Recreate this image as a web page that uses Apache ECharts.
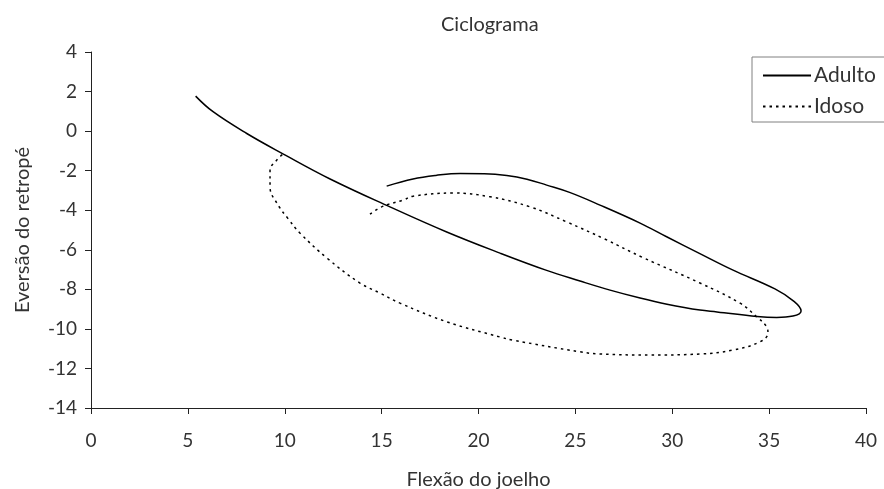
<!DOCTYPE html>
<html>
<head>
<meta charset="utf-8">
<script src="https://cdn.jsdelivr.net/npm/echarts@6/dist/echarts.min.js"></script>
<style>
  html, body { margin: 0; padding: 0; background: #fff; }
  #chart { width: 884px; height: 489px; }
</style>
</head>
<body>
<div id="chart"></div>
<script>
// flexao do joelho (x) / eversao do retrope (y)
var adultoX = [5.40, 6.30, 8.04, 9.93, 12.34, 15.43, 18.36, 21.11, 23.48, 25.24, 26.79, 28.34, 29.73, 31.43, 32.31, 34.37, 35.39, 36.23, 36.65, 36.30, 35.30, 33.14, 31.40, 29.71, 28.34, 26.27, 24.70, 23.52, 22.50, 21.46, 20.30, 19.05, 17.80, 16.62, 15.26];
var adultoY = [1.77, 0.98, -0.12, -1.16, -2.42, -3.83, -5.10, -6.17, -7.03, -7.58, -8.04, -8.44, -8.75, -9.05, -9.14, -9.37, -9.42, -9.35, -9.09, -8.62, -7.98, -7.03, -6.18, -5.34, -4.65, -3.74, -3.10, -2.73, -2.43, -2.24, -2.15, -2.14, -2.24, -2.42, -2.78];

var idosoX = [14.40, 15.00, 16.10, 16.62, 18.68, 20.59, 22.66, 24.55, 26.50, 28.50, 31.43, 33.50, 34.36, 34.87, 34.94, 34.53, 33.14, 31.43, 28.85, 26.27, 25.24, 21.78, 21.11, 18.36, 15.95, 14.92, 13.88, 12.18, 10.79, 10.15, 9.70, 9.24, 9.24, 9.58, 9.91];
var idosoY = [-4.20, -3.83, -3.49, -3.29, -3.13, -3.32, -3.83, -4.59, -5.45, -6.40, -7.68, -8.70, -9.39, -9.89, -10.21, -10.65, -11.07, -11.27, -11.32, -11.27, -11.16, -10.57, -10.41, -9.64, -8.70, -8.19, -7.68, -6.42, -5.16, -4.40, -3.80, -2.83, -1.97, -1.47, -1.16];

var xTicks = [0, 5, 10, 15, 20, 25, 30, 35, 40];
var yTicks = [-14, -12, -10, -8, -6, -4, -2, 0, 2, 4];

function pairs(xs, ys) {
    return xs.map(function (x, i) { return [x, ys[i]]; });
}

var font = 'Lato';
var txt = '#333';

var chart = echarts.init(document.getElementById('chart'));
chart.setOption({
    animation: false,
    textStyle: { fontFamily: font },
    title: {
        text: 'Ciclograma',
        left: 441,
        top: 15,
        padding: 0,
        textStyle: { fontFamily: font, fontWeight: 'normal', fontSize: 20, color: txt }
    },
    legend: {
        orient: 'vertical',
        left: 752,
        top: 57,
        padding: [8, 40, 5, 10],
        itemGap: 10,
        itemWidth: 48,
        itemHeight: 14,
        backgroundColor: '#fff',
        borderColor: '#808080',
        borderWidth: 1,
        borderRadius: 0,
        itemStyle: { color: 'transparent', borderWidth: 0, opacity: 0 },
        textStyle: { fontFamily: font, fontSize: 21, color: txt, padding: [0, 0, 0, -2] },
        data: ['Adulto', 'Idoso']
    },
    grid: { left: 91, right: 18, top: 52, bottom: 81, outerBoundsMode: 'none', containLabel: false },
    xAxis: {
        type: 'value',
        min: xTicks[0],
        max: xTicks[xTicks.length - 1],
        interval: 5,
        name: 'Flexão do joelho',
        nameLocation: 'middle',
        nameGap: 62,
        nameTextStyle: { fontFamily: font, fontSize: 20, color: txt },
        axisLine: { onZero: false, lineStyle: { color: '#222', width: 1 } },
        axisTick: { length: 6, lineStyle: { color: '#222' } },
        axisLabel: { margin: 23, fontFamily: font, fontSize: 19, color: txt },
        splitLine: { show: false }
    },
    yAxis: {
        type: 'value',
        min: yTicks[0],
        max: yTicks[yTicks.length - 1],
        interval: 2,
        name: 'Eversão do retropé',
        nameLocation: 'middle',
        nameGap: 58,
        nameTextStyle: { fontFamily: font, fontSize: 20, color: txt },
        axisLine: { show: true, onZero: false, lineStyle: { color: '#222', width: 1 } },
        axisTick: { show: true, length: 6, lineStyle: { color: '#222' } },
        axisLabel: { margin: 14, fontFamily: font, fontSize: 19, color: txt },
        splitLine: { show: false }
    },
    series: [
        {
            name: 'Adulto',
            type: 'line',
            data: pairs(adultoX, adultoY),
            smooth: 0.4,
            showSymbol: false,
            symbol: 'none',
            lineStyle: { color: '#000', width: 1.5 },
            itemStyle: { color: '#000' }
        },
        {
            name: 'Idoso',
            type: 'line',
            data: pairs(idosoX, idosoY),
            smooth: 0.4,
            showSymbol: false,
            symbol: 'none',
            lineStyle: { color: '#000', width: 1.5, type: [2.5, 4] },
            itemStyle: { color: '#000' }
        }
    ]
});
</script>
</body>
</html>
